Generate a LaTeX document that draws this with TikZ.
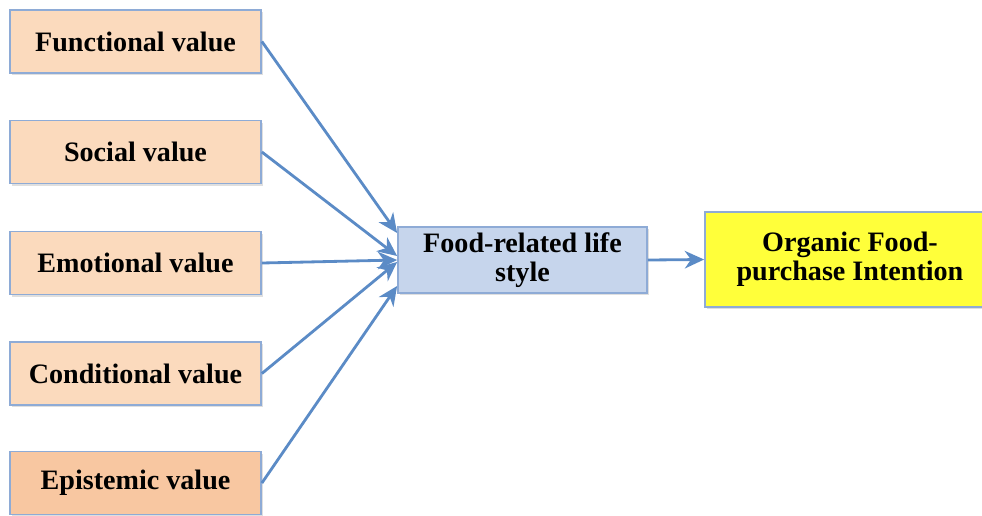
\documentclass[tikz,border=0pt]{standalone}
\usepackage{fontspec}
\setmainfont{Liberation Serif}
\usetikzlibrary{arrows.meta,shadows}
\definecolor{peach}{HTML}{FBDABD}
\definecolor{darkpeach}{HTML}{F8C7A1}
\definecolor{lifeblue}{HTML}{C6D5EC}
\definecolor{boxline}{HTML}{8EABD6}
\definecolor{arrowblue}{HTML}{5B8BC6}
\definecolor{brightyellow}{HTML}{FFFF3A}
\tikzset{
  valuebox/.style={draw=boxline, line width=1pt, fill=peach, rectangle, minimum width=5.02cm, minimum height=1.26cm,
    font=\fontsize{16}{16.5}\selectfont\bfseries, drop shadow={opacity=0.25, shadow xshift=1.2pt, shadow yshift=-1.2pt}},
  flow/.style={->, >={Stealth[length=11pt, width=10pt, inset=3.5pt]}, draw=arrowblue, line width=1.6pt}
}
\begin{document}
\begin{tikzpicture}
\useasboundingbox (0, 0) rectangle (19.64, -10.3);
\node[valuebox] (functional) at (2.71, -0.83) {Functional value};
\node[valuebox] (social) at (2.71, -3.04) {Social value};
\node[valuebox] (emotional) at (2.71, -5.26) {Emotional value};
\node[valuebox] (conditional) at (2.71, -7.47) {Conditional value};
\node[valuebox, fill=darkpeach] (epistemic) at (2.71, -9.66) {Epistemic value};
\node[valuebox, fill=lifeblue, minimum width=4.98cm, minimum height=1.28cm, align=center] (lifestyle) at (10.45, -5.2) {Food-related life\\style};
\node[valuebox, fill=brightyellow, minimum width=5.8cm, minimum height=1.9cm, align=center] (intention) at (17.0, -5.19) {Organic Food-\\purchase Intention};
\draw[flow] (functional.east) -- ([yshift=0.54cm]lifestyle.west);
\draw[flow] (social.east) -- ([yshift=0.08cm]lifestyle.west);
\draw[flow] (emotional.east) -- (lifestyle.west);
\draw[flow] (conditional.east) -- ([yshift=-0.04cm]lifestyle.west);
\draw[flow] (epistemic.east) -- ([yshift=-0.52cm]lifestyle.west);
\draw[flow] (lifestyle.east) -- (intention.west);
\end{tikzpicture}
\end{document}
